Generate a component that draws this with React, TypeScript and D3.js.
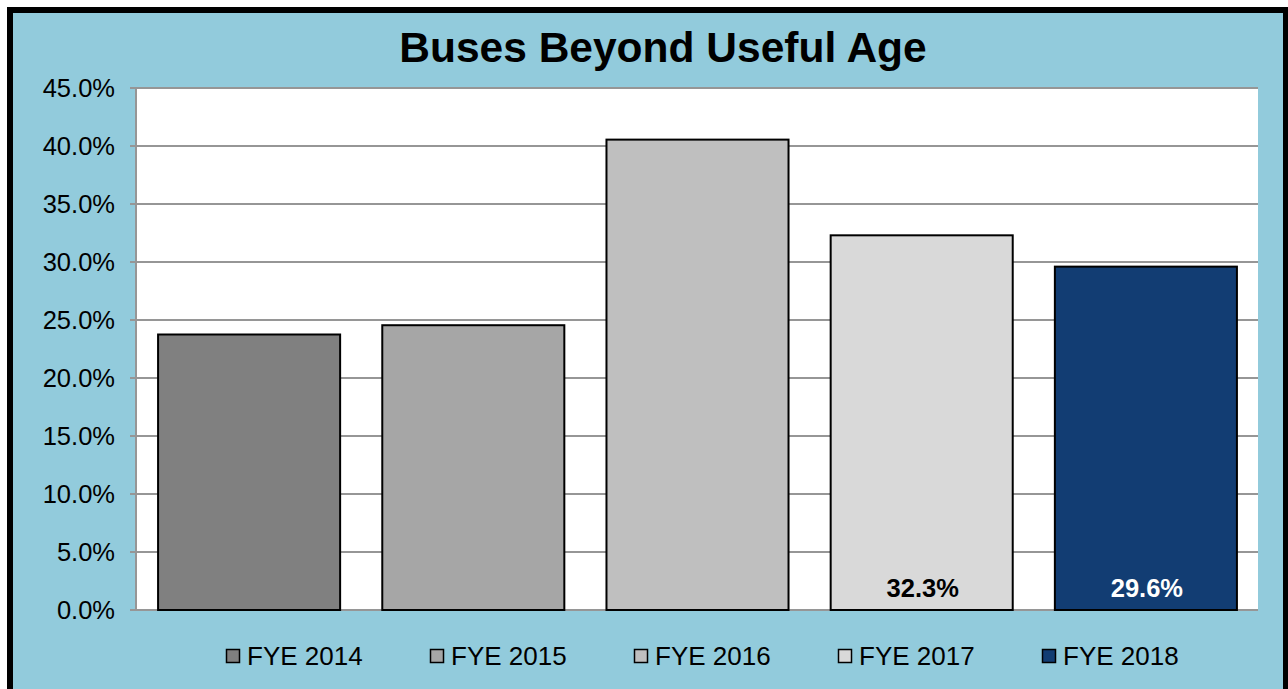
import React, { useEffect, useRef } from "react";
import * as d3 from "d3";

const categories = ["FYE 2014", "FYE 2015", "FYE 2016", "FYE 2017", "FYE 2018"];
const values = [23.75, 24.55, 40.55, 32.3, 29.6];
const barColors = ["#808080", "#A6A6A6", "#BFBFBF", "#D9D9D9", "#123D73"];
const labelled = [false, false, false, true, true];
const labelColors = ["#000", "#000", "#000", "#000", "#fff"];
const yTicks = [0, 5, 10, 15, 20, 25, 30, 35, 40, 45];

const FONT = "'Liberation Sans', Arial, sans-serif";

export default function App() {
  const ref = useRef<SVGSVGElement>(null);

  useEffect(() => {
    const svg = d3.select(ref.current);
    svg.selectAll("*").remove();

    const plot = { left: 137, right: 1258, top: 88, bottom: 610 };

    // frame
    svg.append("rect")
      .attr("x", 10).attr("y", 10)
      .attr("width", 1276).attr("height", 700)
      .attr("fill", "#92CBDC")
      .attr("stroke", "#000")
      .attr("stroke-width", 6);

    svg.append("text")
      .attr("x", 663).attr("y", 62)
      .attr("text-anchor", "middle")
      .attr("font-family", FONT)
      .attr("font-weight", "bold")
      .attr("font-size", "42.5px")
      .text("Buses Beyond Useful Age");

    const x = d3.scaleBand<string>()
      .domain(categories)
      .range([plot.left, plot.right])
      .paddingInner(0.188)
      .paddingOuter(0.094);
    const y = d3.scaleLinear().domain([0, 45]).range([plot.bottom, plot.top]);

    svg.append("rect")
      .attr("x", plot.left).attr("y", plot.top)
      .attr("width", plot.right - plot.left)
      .attr("height", plot.bottom - plot.top)
      .attr("fill", "#fff");

    // gridlines + tick marks
    svg.append("g")
      .selectAll("line")
      .data(yTicks)
      .join("line")
      .attr("x1", 130).attr("x2", plot.right)
      .attr("y1", d => y(d)).attr("y2", d => y(d))
      .attr("stroke", "#969696")
      .attr("stroke-width", 2);

    svg.append("line")
      .attr("x1", plot.left - 1).attr("x2", plot.left - 1)
      .attr("y1", plot.top).attr("y2", plot.bottom + 1)
      .attr("stroke", "#969696")
      .attr("stroke-width", 2);

    svg.append("g")
      .selectAll("text")
      .data(yTicks)
      .join("text")
      .attr("x", 115)
      .attr("y", d => y(d) + 9)
      .attr("text-anchor", "end")
      .attr("font-family", FONT)
      .attr("font-size", "25.5px")
      .text(d => d.toFixed(1) + "%");

    // bars
    svg.append("g")
      .selectAll("rect")
      .data(values)
      .join("rect")
      .attr("x", (d, i) => x(categories[i])!)
      .attr("y", d => y(d))
      .attr("width", x.bandwidth())
      .attr("height", d => plot.bottom - y(d))
      .attr("fill", (d, i) => barColors[i])
      .attr("stroke", "#000")
      .attr("stroke-width", 2);

    svg.append("g")
      .selectAll("text")
      .data(values.map((v, i) => ({ v, i })).filter(d => labelled[d.i]))
      .join("text")
      .attr("x", d => x(categories[d.i])! + x.bandwidth() / 2 + 1)
      .attr("y", plot.bottom - 13)
      .attr("text-anchor", "middle")
      .attr("font-family", FONT)
      .attr("font-weight", "bold")
      .attr("font-size", "25.5px")
      .attr("fill", d => labelColors[d.i])
      .text(d => d.v.toFixed(1) + "%");

    // legend
    const legend = svg.append("g")
      .selectAll("g")
      .data(categories)
      .join("g")
      .attr("transform", (d, i) => `translate(${226 + i * 204}, 0)`);
    legend.append("rect")
      .attr("x", 0.5).attr("y", 649.5)
      .attr("width", 13).attr("height", 13)
      .attr("fill", (d, i) => barColors[i])
      .attr("stroke", "#000")
      .attr("stroke-width", 1.5);
    legend.append("text")
      .attr("x", 21).attr("y", 665)
      .attr("font-family", FONT)
      .attr("font-size", "26px")
      .text(d => d);
  }, []);

  return (
    <svg
      ref={ref}
      width={1288}
      height={689}
      style={{ position: "absolute", left: 0, top: 0, display: "block" }}
    />
  );
}
